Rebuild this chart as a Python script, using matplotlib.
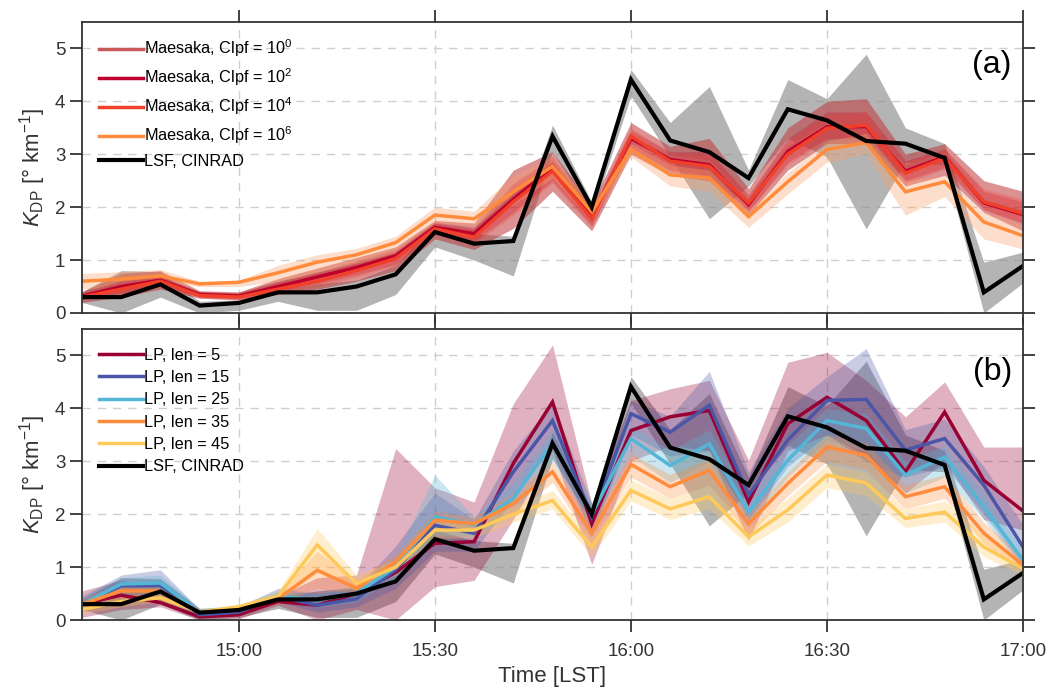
import matplotlib
matplotlib.use("Agg")
import matplotlib.pyplot as plt
import matplotlib.dates as mdates
import pandas as pd

plt.rcParams['font.family'] = ['Liberation Sans', 'DejaVu Sans']
plt.rcParams['mathtext.fontset'] = 'custom'
plt.rcParams['mathtext.rm'] = 'Liberation Sans'
plt.rcParams['mathtext.it'] = 'Liberation Sans:italic'
plt.rcParams['mathtext.default'] = 'regular'

times = ["14:36", "14:42", "14:48", "14:54", "15:00", "15:06", "15:12", "15:18", "15:24",
         "15:30", "15:36", "15:42", "15:48", "15:54", "16:00", "16:06", "16:12", "16:18",
         "16:24", "16:30", "16:36", "16:42", "16:48", "16:54", "17:00"]

# LSF, CINRAD (both panels)
lsf = [0.30, 0.30, 0.54, 0.14, 0.19, 0.39, 0.39, 0.50, 0.73, 1.53, 1.31, 1.36, 3.34, 2.00, 4.41,
       3.26, 3.04, 2.55, 3.85, 3.64, 3.25, 3.20, 2.93, 0.39, 0.89]
lsf_lo = [0.20, 0.00, 0.30, 0.00, 0.05, 0.22, 0.05, 0.05, 0.35, 1.25, 1.00, 0.70, 3.05, 1.85, 4.10,
          2.95, 1.78, 2.40, 3.30, 2.95, 1.59, 2.85, 2.80, 0.00, 0.57]
lsf_hi = [0.40, 0.80, 0.78, 0.22, 0.25, 0.45, 0.55, 0.62, 0.90, 1.70, 1.50, 1.45, 3.55, 2.10, 4.60,
          3.60, 4.28, 2.70, 4.41, 4.05, 4.89, 3.50, 3.20, 0.96, 1.15]

# Panel (a): Maesaka
m0 = [0.35, 0.55, 0.65, 0.36, 0.34, 0.55, 0.72, 0.90, 1.10, 1.65, 1.55, 2.20, 2.80, 1.85, 3.28,
      2.95, 2.85, 2.10, 3.10, 3.55, 3.50, 2.75, 3.00, 2.10, 1.90]
m0_lo = [0.20, 0.30, 0.45, 0.28, 0.25, 0.35, 0.45, 0.60, 0.80, 1.40, 1.20, 1.60, 2.30, 1.55, 3.00,
         2.60, 2.50, 1.85, 2.70, 3.20, 3.20, 2.40, 2.60, 1.90, 1.55]
m0_hi = [0.40, 0.75, 0.80, 0.42, 0.40, 0.65, 0.85, 1.05, 1.25, 1.75, 1.70, 2.70, 3.05, 2.05, 3.60,
         3.15, 3.30, 2.35, 3.50, 4.00, 4.05, 3.00, 3.20, 2.50, 2.30]
m2 = [0.32, 0.50, 0.62, 0.35, 0.32, 0.50, 0.68, 0.86, 1.08, 1.62, 1.50, 2.15, 2.75, 1.82, 3.30,
      2.90, 2.80, 2.05, 3.05, 3.52, 3.52, 2.68, 2.95, 2.08, 1.86]
m2_lo = [0.25, 0.38, 0.52, 0.30, 0.27, 0.42, 0.56, 0.72, 0.92, 1.50, 1.35, 1.90, 2.50, 1.65, 3.10,
         2.70, 2.60, 1.92, 2.85, 3.30, 3.30, 2.50, 2.75, 1.95, 1.70]
m2_hi = [0.38, 0.62, 0.70, 0.40, 0.37, 0.58, 0.78, 0.98, 1.20, 1.72, 1.62, 2.45, 2.95, 1.98, 3.45,
         3.05, 3.05, 2.22, 3.30, 3.80, 3.80, 2.88, 3.10, 2.30, 2.10]
m4 = [0.30, 0.45, 0.60, 0.33, 0.30, 0.45, 0.60, 0.80, 1.03, 1.59, 1.43, 2.10, 2.68, 1.78, 3.34,
      2.87, 2.77, 2.08, 3.00, 3.49, 3.55, 2.64, 2.93, 2.10, 1.88]
m4_lo = [0.24, 0.35, 0.50, 0.28, 0.25, 0.38, 0.50, 0.68, 0.90, 1.48, 1.30, 1.85, 2.45, 1.62, 3.15,
         2.68, 2.55, 1.92, 2.80, 3.28, 3.32, 2.45, 2.72, 1.95, 1.68]
m4_hi = [0.36, 0.56, 0.70, 0.38, 0.35, 0.54, 0.72, 0.92, 1.16, 1.70, 1.58, 2.40, 2.90, 1.95, 3.50,
         3.02, 3.00, 2.25, 3.25, 3.75, 3.80, 2.85, 3.10, 2.35, 2.15]
m6 = [0.60, 0.64, 0.70, 0.55, 0.58, 0.76, 0.96, 1.10, 1.33, 1.85, 1.78, 2.29, 2.77, 1.91, 3.09,
      2.61, 2.55, 1.82, 2.48, 3.09, 3.22, 2.29, 2.48, 1.72, 1.46]
m6_lo = [0.45, 0.50, 0.60, 0.50, 0.50, 0.60, 0.75, 0.90, 1.15, 1.70, 1.65, 2.05, 2.55, 1.75, 2.95,
         2.40, 2.30, 1.62, 2.25, 2.85, 3.00, 1.85, 2.20, 1.40, 1.21]
m6_hi = [0.75, 0.78, 0.82, 0.60, 0.62, 0.90, 1.10, 1.22, 1.45, 2.00, 1.92, 2.60, 2.95, 2.05, 3.20,
         2.80, 2.70, 1.95, 2.65, 3.25, 3.40, 2.50, 2.60, 1.90, 1.65]

# Panel (b): LP
lp5 = [0.30, 0.47, 0.33, 0.06, 0.10, 0.35, 0.28, 0.50, 0.90, 1.45, 1.48, 2.96, 4.12, 1.82, 3.58,
       3.84, 3.96, 2.23, 3.71, 4.21, 3.77, 2.80, 3.93, 2.64, 2.06]
lp5_lo = [0.05, 0.20, 0.25, 0.00, 0.02, 0.28, 0.00, 0.20, 0.00, 0.63, 0.75, 1.90, 3.20, 1.05, 3.00,
          3.30, 3.20, 1.50, 3.20, 3.50, 3.10, 2.40, 3.00, 1.90, 1.70]
lp5_hi = [0.55, 0.75, 0.60, 0.20, 0.22, 0.45, 0.80, 0.85, 3.24, 2.50, 2.23, 4.09, 5.20, 2.20, 4.15,
          4.37, 4.53, 3.02, 4.87, 5.06, 4.53, 3.84, 4.50, 3.27, 3.27]
lp15 = [0.30, 0.65, 0.65, 0.10, 0.15, 0.45, 0.28, 0.40, 0.95, 1.79, 1.64, 2.80, 3.77, 1.95, 3.90,
        3.55, 4.06, 2.36, 3.40, 4.15, 4.17, 3.21, 3.43, 2.55, 1.38]
lp15_lo = [0.15, 0.40, 0.40, 0.05, 0.10, 0.35, 0.15, 0.25, 0.60, 1.30, 1.30, 2.30, 3.30, 1.60, 3.50,
           3.10, 3.20, 1.90, 2.90, 3.50, 3.00, 2.70, 2.90, 2.00, 1.00]
lp15_hi = [0.45, 0.85, 0.95, 0.20, 0.25, 0.60, 0.50, 0.60, 1.40, 2.40, 1.90, 3.20, 4.10, 2.20, 4.15,
           3.85, 4.70, 2.80, 4.00, 4.60, 5.13, 3.60, 3.80, 2.90, 1.80]
lp25 = [0.30, 0.68, 0.70, 0.15, 0.20, 0.45, 0.38, 0.50, 1.00, 1.95, 1.80, 2.30, 3.35, 2.00, 3.43,
        2.92, 3.33, 2.04, 3.02, 3.77, 3.62, 2.74, 3.08, 2.14, 1.13]
lp25_lo = [0.20, 0.50, 0.50, 0.10, 0.15, 0.38, 0.25, 0.35, 0.80, 1.60, 1.60, 2.00, 3.00, 1.80, 3.10,
           2.60, 3.00, 1.80, 2.70, 3.40, 3.20, 2.40, 2.70, 1.90, 0.95]
lp25_hi = [0.45, 0.80, 0.85, 0.22, 0.28, 0.55, 0.50, 0.65, 1.20, 2.74, 1.95, 2.60, 3.60, 2.20, 3.70,
           3.20, 3.60, 2.30, 3.30, 4.00, 3.90, 3.00, 3.30, 2.40, 1.30]
lp35 = [0.30, 0.55, 0.55, 0.15, 0.20, 0.40, 0.94, 0.60, 1.10, 1.89, 1.82, 2.20, 2.80, 1.64, 2.94,
        2.52, 2.83, 1.82, 2.58, 3.27, 3.11, 2.33, 2.52, 1.64, 1.04]
lp35_lo = [0.20, 0.40, 0.45, 0.10, 0.15, 0.30, 0.60, 0.50, 0.95, 1.70, 1.65, 2.00, 2.60, 1.45, 2.70,
           2.30, 2.55, 1.60, 2.35, 3.00, 2.85, 2.10, 2.30, 1.45, 0.90]
lp35_hi = [0.40, 0.70, 0.65, 0.20, 0.25, 0.50, 1.30, 0.75, 1.25, 2.05, 1.95, 2.40, 3.00, 1.85, 3.15,
           2.75, 3.05, 2.00, 2.80, 3.50, 3.35, 2.55, 2.75, 1.85, 1.20]
lp45 = [0.20, 0.35, 0.42, 0.15, 0.25, 0.45, 1.42, 0.69, 1.00, 1.70, 1.70, 2.00, 2.26, 1.38, 2.45,
        2.10, 2.33, 1.57, 2.08, 2.74, 2.59, 1.92, 2.04, 1.38, 0.97]
lp45_lo = [0.12, 0.25, 0.35, 0.10, 0.20, 0.38, 0.90, 0.55, 0.85, 1.55, 1.55, 1.85, 2.10, 1.20, 2.25,
           1.90, 2.10, 1.40, 1.85, 2.50, 2.35, 1.75, 1.85, 1.20, 0.85]
lp45_hi = [0.30, 0.45, 0.50, 0.20, 0.30, 0.55, 1.73, 0.85, 1.15, 1.85, 1.85, 2.15, 2.45, 1.55, 2.65,
           2.30, 2.55, 1.75, 2.30, 2.95, 2.80, 2.10, 2.25, 1.60, 1.10]

x = pd.to_datetime(["2020-01-01 " + t for t in times])

fig = plt.figure(figsize=(10.51, 6.90), dpi=100)
ax_a = fig.add_axes([0.078, 0.5464, 0.8954, 0.4218])
ax_b = fig.add_axes([0.078, 0.1014, 0.8954, 0.4218])

def style(ax):
    ax.set_xlim(x[0], x[-1])
    ax.set_ylim(0, 5.5)
    ax.set_yticks([0, 1, 2, 3, 4, 5])
    ax.xaxis.set_major_locator(mdates.MinuteLocator(byminute=[0, 30]))
    ax.xaxis.set_major_formatter(mdates.DateFormatter("%H:%M"))
    ax.grid(True, linestyle=(0, (6, 5)), color="#cfcfcf", linewidth=1.0)
    ax.set_axisbelow(True)
    for s in ax.spines.values():
        s.set_color("#333333")
        s.set_linewidth(1.3)
    ax.tick_params(direction="out", length=8.5, width=1.3, color="#333333",
                   top=True, right=True, labelsize=13.5, labelcolor="#333333")
    ax.tick_params(axis="x", pad=8)
    ax.set_ylabel(r"$\mathit{K}_{DP}$ [° km$^{-1}$]", fontsize=16, color="#333333", labelpad=5)

lw = 2.5

# Panel (a)
ax_a.fill_between(x, lsf_lo, lsf_hi, color="#8c8c8c", alpha=0.65, linewidth=0)
a_series = [
    (m0, m0_lo, m0_hi, "#c8585a", "#c0393b", 0.55, r"Maesaka, Clpf = 10$^{0}$"),
    (m2, m2_lo, m2_hi, "#c0002c", "#c0002c", 0.25, r"Maesaka, Clpf = 10$^{2}$"),
    (m4, m4_lo, m4_hi, "#f0402a", "#f0402a", 0.25, r"Maesaka, Clpf = 10$^{4}$"),
    (m6, m6_lo, m6_hi, "#ff8c3c", "#fca06a", 0.35, r"Maesaka, Clpf = 10$^{6}$"),
]
for v, lo, hi, c, bc, al, lab in a_series:
    ax_a.fill_between(x, lo, hi, color=bc, alpha=al, linewidth=0)
for v, lo, hi, c, bc, al, lab in a_series:
    ax_a.plot(x, v, color=c, lw=lw, label=lab, solid_joinstyle="miter")
ax_a.plot(x, lsf, color="black", lw=3.0, label="LSF, CINRAD", solid_joinstyle="miter")

# Panel (b)
ax_b.fill_between(x, lsf_lo, lsf_hi, color="#8c8c8c", alpha=0.65, linewidth=0)
b_series = [
    (lp5, lp5_lo, lp5_hi, "#990033", 0.30, "LP, len = 5"),
    (lp15, lp15_lo, lp15_hi, "#4a56a6", 0.30, "LP, len = 15"),
    (lp25, lp25_lo, lp25_hi, "#53b6d6", 0.30, "LP, len = 25"),
    (lp35, lp35_lo, lp35_hi, "#ff8c3c", 0.30, "LP, len = 35"),
    (lp45, lp45_lo, lp45_hi, "#ffc95a", 0.30, "LP, len = 45"),
]
for v, lo, hi, c, al, lab in b_series:
    ax_b.fill_between(x, lo, hi, color=c, alpha=al, linewidth=0)
for v, lo, hi, c, al, lab in b_series:
    ax_b.plot(x, v, color=c, lw=lw, label=lab, solid_joinstyle="miter")
ax_b.plot(x, lsf, color="black", lw=3.0, label="LSF, CINRAD", solid_joinstyle="miter")

for ax, ly in ((ax_a, 0.985), (ax_b, 0.975)):
    style(ax)
    ax.legend(loc="upper left", frameon=False, fontsize=11.7, handlelength=2.7,
              handletextpad=0.05, labelspacing=0.45, borderaxespad=0.3,
              bbox_to_anchor=(0.006, ly))

ax_a.tick_params(labelbottom=False)
ax_b.set_xlabel("Time [LST]", fontsize=16, color="#333333", labelpad=4)

ax_a.text(0.988, 0.905, "(a)", transform=ax_a.transAxes, ha="right", va="top", fontsize=23)
ax_b.text(0.988, 0.905, "(b)", transform=ax_b.transAxes, ha="right", va="top", fontsize=23)

fig.savefig("out.png", dpi=100)
